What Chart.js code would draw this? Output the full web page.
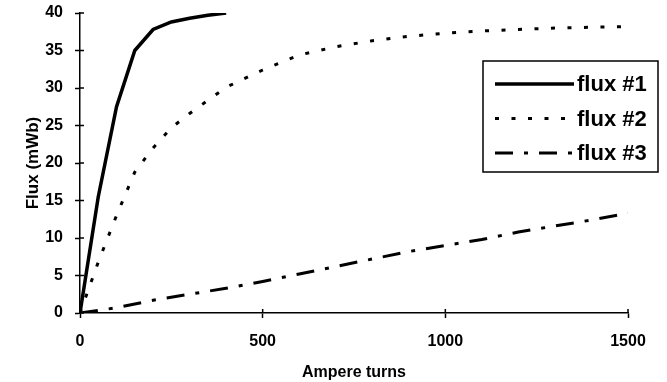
<!DOCTYPE html>
<html>
<head>
<meta charset="utf-8">
<script src="https://cdn.jsdelivr.net/npm/chart.js@4.4.1/dist/chart.umd.min.js"></script>
<style>
  html, body { margin: 0; padding: 0; background: #fff; }
</style>
</head>
<body>
<canvas id="fluxChart" width="667" height="382"></canvas>
<script>
// values
const seriesNames = ['flux #1', 'flux #2', 'flux #3'];

const amps1 = [0, 50, 100, 150, 200, 250, 300, 350, 400];
const flux1 = [0, 15.5, 27.5, 35, 37.8, 38.8, 39.3, 39.7, 40];

const amps2 = [0, 50, 100, 150, 200, 250, 300, 400, 500, 600, 700, 800, 900, 1000, 1100, 1200, 1300, 1400, 1500];
const flux2 = [0, 6.8, 13, 18.8, 22, 24.7, 26.6, 30.1, 32.4, 34.4, 35.5, 36.3, 36.9, 37.3, 37.6, 37.8, 38, 38.1, 38.2];

const amps3 = [0, 100, 200, 300, 400, 500, 600, 700, 800, 900, 1000, 1100, 1200, 1300, 1400, 1500];
const flux3 = [0, 0.7, 1.7, 2.5, 3.3, 4.2, 5.2, 6.2, 7.2, 8.2, 9.0, 9.8, 10.8, 11.6, 12.4, 13.3];

const xMin = 0, xMax = 1500, xStep = 500;
const yMin = 0, yMax = 40, yStep = 5;

const toPoints = (xs, ys) => xs.map((x, i) => ({ x: x, y: ys[i] }));

const FONT = '"Liberation Sans", Arial, sans-serif';

// short inner tick marks so the ticks cross the axis lines
const crossTicks = {
  id: 'crossTicks',
  afterDraw(chart) {
    const ctx = chart.ctx;
    const xs = chart.scales.x, ys = chart.scales.y;
    ctx.save();
    ctx.strokeStyle = '#000';
    ctx.lineWidth = 1.5;
    ctx.beginPath();
    ys.ticks.forEach(t => {
      const py = ys.getPixelForValue(t.value);
      ctx.moveTo(xs.left, py);
      ctx.lineTo(xs.left + 4, py);
    });
    xs.ticks.forEach(t => {
      const px = xs.getPixelForValue(t.value);
      ctx.moveTo(px, ys.bottom);
      ctx.lineTo(px, ys.bottom - 4);
    });
    ctx.stroke();
    ctx.restore();
  }
};

// legend in a framed box inside the plot, like the original
const boxLegend = {
  id: 'boxLegend',
  afterDatasetsDraw(chart) {
    const ctx = chart.ctx;
    const left = 483, top = 61, right = 658, bottom = 172;
    ctx.save();
    ctx.fillStyle = '#fff';
    ctx.fillRect(left, top, right - left, bottom - top);
    ctx.strokeStyle = '#000';
    ctx.lineWidth = 1.5;
    ctx.strokeRect(left, top, right - left, bottom - top);
    chart.data.datasets.forEach((ds, i) => {
      const y = 84 + i * 34.5;
      ctx.beginPath();
      ctx.setLineDash(ds.borderDash || []);
      ctx.lineWidth = ds.borderWidth;
      ctx.strokeStyle = ds.borderColor;
      ctx.moveTo(495, y);
      ctx.lineTo(574, y);
      ctx.stroke();
      ctx.setLineDash([]);
      ctx.fillStyle = '#000';
      ctx.font = 'bold 22px ' + FONT;
      ctx.textBaseline = 'middle';
      ctx.textAlign = 'left';
      ctx.fillText(ds.label, 577, y + 1);
    });
    ctx.restore();
  }
};

new Chart(document.getElementById('fluxChart').getContext('2d'), {
  type: 'line',
  data: {
    datasets: [
      {
        label: seriesNames[0],
        data: toPoints(amps1, flux1),
        borderColor: '#000',
        borderWidth: 3.5,
        pointRadius: 0
      },
      {
        label: seriesNames[1],
        data: toPoints(amps2, flux2),
        borderColor: '#000',
        borderWidth: 3,
        borderDash: [4, 12.5],
        pointRadius: 0
      },
      {
        label: seriesNames[2],
        data: toPoints(amps3, flux3),
        borderColor: '#000',
        borderWidth: 3,
        borderDash: [18, 11, 4, 11],
        pointRadius: 0
      }
    ]
  },
  options: {
    responsive: false,
    animation: false,
    layout: { padding: { left: 0, right: 39, top: 13, bottom: 0 } },
    plugins: {
      legend: { display: false },
      tooltip: { enabled: false }
    },
    scales: {
      x: {
        type: 'linear',
        min: xMin,
        max: xMax,
        afterFit: scale => { scale.height = 69; },
        ticks: {
          stepSize: xStep,
          color: '#000',
          padding: 14,
          maxRotation: 0,
          callback: v => String(v),
          font: { family: FONT, size: 16, weight: 'bold' }
        },
        grid: { drawOnChartArea: false, color: '#000', tickLength: 5, tickWidth: 1.5 },
        border: { color: '#000', width: 1.5 },
        title: {
          display: true,
          text: 'Ampere turns',
          color: '#000',
          padding: { top: 0, bottom: 0 },
          font: { family: FONT, size: 16, weight: 'bold' }
        }
      },
      y: {
        min: yMin,
        max: yMax,
        afterFit: scale => {
          scale.width = 80;
          scale.paddingTop = 0;
          scale.paddingBottom = 0;
        },
        ticks: {
          stepSize: yStep,
          color: '#000',
          padding: 12,
          callback: v => String(v),
          font: { family: FONT, size: 16, weight: 'bold' }
        },
        grid: { drawOnChartArea: false, color: '#000', tickLength: 5, tickWidth: 1.5 },
        border: { color: '#000', width: 1.5 },
        title: {
          display: true,
          text: 'Flux (mWb)',
          color: '#000',
          padding: { top: 23, bottom: 0 },
          font: { family: FONT, size: 17, weight: 'bold' }
        }
      }
    }
  },
  plugins: [crossTicks, boxLegend]
});
</script>
</body>
</html>
